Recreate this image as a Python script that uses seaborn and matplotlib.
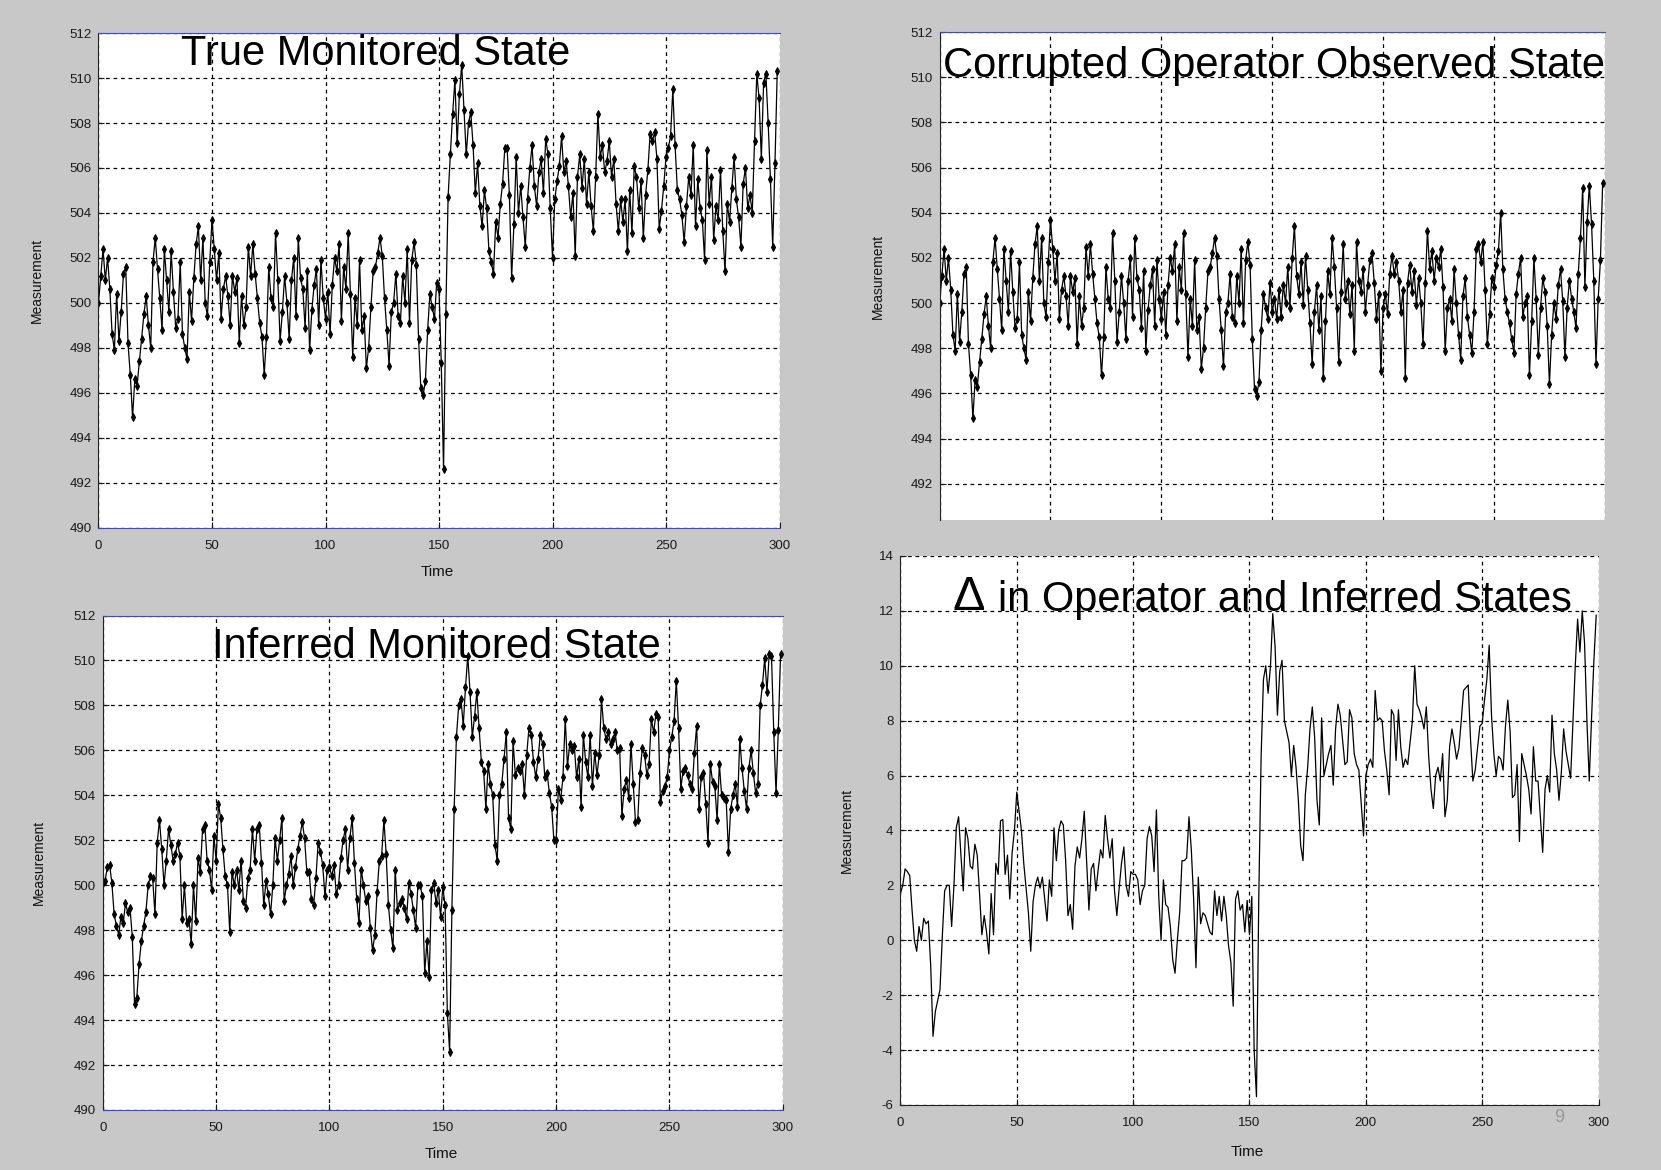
import numpy as np
import pandas as pd
import matplotlib
matplotlib.use('Agg')
import matplotlib.pyplot as plt
import seaborn as sns

# time index of the simulation
time = np.arange(300)

# true monitored state
true_state = [
    500.0, 501.2, 502.4, 501.0, 502.0, 500.6, 498.6, 497.9, 500.4, 498.3,
    499.6, 501.3, 501.6, 498.2, 496.8, 494.9, 496.6, 496.3, 497.4, 498.4,
    499.5, 500.3, 499.0, 498.0, 501.8, 502.9, 501.5, 500.2, 498.8, 502.4,
    501.0, 499.6, 502.3, 500.5, 498.9, 499.3, 501.8, 498.6, 498.0, 497.5,
    500.5, 499.2, 501.1, 502.6, 503.4, 501.0, 502.9, 500.0, 499.4, 501.8,
    503.7, 502.4, 501.0, 502.2, 499.3, 500.6, 501.2, 500.3, 499.0, 501.2,
    500.5, 501.1, 498.2, 500.3, 499.0, 499.8, 502.5, 501.2, 502.6, 501.3,
    500.2, 499.1, 498.5, 496.8, 498.5, 501.6, 500.2, 499.8, 503.1, 501.0,
    498.3, 499.6, 501.2, 500.0, 498.4, 501.0, 502.0, 499.4, 502.9, 501.1,
    500.6, 498.9, 501.4, 497.9, 499.7, 500.8, 501.5, 499.0, 501.9, 500.2,
    499.3, 500.5, 498.6, 500.8, 502.0, 501.4, 502.6, 499.2, 501.6, 500.6,
    503.1, 500.4, 497.6, 500.2, 499.0, 501.9, 498.8, 499.4, 497.1, 498.0,
    499.8, 501.4, 501.6, 502.2, 502.9, 502.1, 500.2, 498.8, 497.2, 499.6,
    500.0, 501.3, 499.4, 499.1, 501.2, 500.0, 502.4, 499.1, 501.9, 502.7,
    501.7, 498.4, 496.2, 495.9, 496.5, 498.8, 500.4, 499.8, 499.3, 500.9,
    500.6, 497.3, 492.6, 499.5, 504.7, 506.6, 508.4, 509.9, 507.1, 509.3,
    510.6, 508.6, 506.6, 508.0, 508.5, 507.0, 504.9, 506.2, 504.3, 503.4,
    505.0, 504.2, 502.3, 501.8, 501.3, 503.6, 502.9, 504.4, 505.3, 506.9,
    506.9, 504.8, 501.1, 503.5, 506.5, 504.0, 505.2, 503.8, 502.5, 504.6,
    506.0, 507.0, 505.2, 504.3, 505.8, 506.4, 504.9, 507.3, 506.6, 504.2,
    502.0, 504.6, 505.4, 506.1, 507.4, 505.8, 506.3, 505.2, 503.8, 504.9,
    502.1, 505.6, 506.6, 505.1, 506.4, 504.4, 505.8, 504.3, 503.2, 505.6,
    508.4, 506.5, 507.0, 505.8, 506.3, 507.2, 505.6, 506.4, 504.4, 503.2,
    504.6, 503.6, 504.6, 502.3, 505.0, 503.1, 506.1, 505.6, 504.2, 505.4,
    502.9, 504.8, 505.9, 507.5, 507.2, 507.6, 506.4, 503.3, 504.1, 505.2,
    506.5, 506.9, 507.4, 509.5, 507.0, 505.0, 504.6, 503.9, 502.7, 504.3,
    505.6, 504.8, 507.0, 503.4, 505.5, 504.2, 503.7, 501.9, 506.8, 504.4,
    505.6, 502.8, 504.3, 503.7, 505.9, 503.2, 501.4, 504.4, 503.6, 505.1,
    506.5, 504.6, 503.8, 502.5, 505.3, 506.0, 504.2, 504.8, 504.0, 507.2,
    510.2, 509.1, 506.4, 509.8, 510.2, 508.0, 505.5, 502.5, 506.2, 510.3,
]

# corrupted operator observed state (top-right panel)
observed_state = [
    500.0, 501.2, 502.4, 501.0, 502.0, 500.6, 498.6, 497.9, 500.4, 498.3,
    499.6, 501.3, 501.6, 498.2, 496.8, 494.9, 496.6, 496.3, 497.4, 498.4,
    499.5, 500.3, 499.0, 498.0, 501.8, 502.9, 501.5, 500.2, 498.8, 502.4,
    501.0, 499.6, 502.3, 500.5, 498.9, 499.3, 501.8, 498.6, 498.0, 497.5,
    500.5, 499.2, 501.1, 502.6, 503.4, 501.0, 502.9, 500.0, 499.4, 501.8,
    503.7, 502.4, 501.0, 502.2, 499.3, 500.6, 501.2, 500.3, 499.0, 501.2,
    500.5, 501.1, 498.2, 500.3, 499.0, 499.8, 502.5, 501.2, 502.6, 501.3,
    500.2, 499.1, 498.5, 496.8, 498.5, 501.6, 500.2, 499.8, 503.1, 501.0,
    498.3, 499.6, 501.2, 500.0, 498.4, 501.0, 502.0, 499.4, 502.9, 501.1,
    500.6, 498.9, 501.4, 497.9, 499.7, 500.8, 501.5, 499.0, 501.9, 500.2,
    499.3, 500.5, 498.6, 500.8, 502.0, 501.4, 502.6, 499.2, 501.6, 500.6,
    503.1, 500.4, 497.6, 500.2, 499.0, 501.9, 498.8, 499.4, 497.1, 498.0,
    499.8, 501.4, 501.6, 502.2, 502.9, 502.1, 500.2, 498.8, 497.2, 499.6,
    500.0, 501.3, 499.4, 499.1, 501.2, 500.0, 502.4, 499.1, 501.9, 502.7,
    501.7, 498.4, 496.2, 495.9, 496.5, 498.8, 500.4, 499.8, 499.3, 500.9,
    499.6, 500.2, 499.3, 500.6, 499.4, 500.8, 500.0, 501.6, 499.8, 502.0,
    503.4, 501.2, 500.4, 501.8, 499.9, 502.1, 500.6, 499.1, 497.3, 499.6,
    500.8, 498.8, 500.3, 496.7, 499.2, 501.4, 500.4, 502.9, 501.6, 499.8,
    497.4, 500.5, 502.6, 500.2, 501.0, 499.5, 500.8, 497.9, 502.7, 501.0,
    500.5, 501.5, 499.6, 500.8, 501.9, 502.2, 500.9, 499.3, 500.4, 497.0,
    499.8, 500.4, 499.5, 501.3, 502.1, 501.3, 501.8, 501.0, 499.6, 500.6,
    496.7, 500.9, 501.7, 500.5, 501.4, 499.9, 501.1, 500.0, 498.2, 500.9,
    503.2, 501.5, 502.3, 501.0, 502.0, 501.6, 502.4, 500.7, 497.9, 499.8,
    500.2, 499.2, 501.5, 500.0, 498.6, 497.5, 500.3, 501.1, 499.4, 498.6,
    497.8, 499.6, 502.4, 502.6, 501.8, 502.7, 500.6, 498.2, 499.5, 501.1,
    500.7, 501.7, 502.3, 504.0, 501.5, 500.2, 499.6, 499.1, 498.4, 497.8,
    500.4, 501.3, 502.0, 499.4, 500.0, 500.3, 496.8, 499.2, 502.0, 500.2,
    497.7, 499.8, 501.1, 500.5, 499.0, 496.4, 498.6, 500.0, 499.3, 500.8,
    501.5, 500.1, 497.6, 499.8, 501.0, 500.2, 499.6, 498.9, 501.3, 502.9,
    505.1, 500.7, 503.6, 505.2, 503.5, 501.0, 497.3, 500.2, 501.9, 505.3,
]

# inferred monitored state (bottom-left panel)
inferred_state = [
    500.1, 500.2, 500.8, 500.9, 500.1, 498.7, 498.2, 497.8, 498.6, 498.3,
    499.2, 498.8, 499.0, 497.7, 494.7, 495.0, 496.5, 497.5, 498.2, 498.8,
    500.0, 500.4, 500.3, 498.7, 501.9, 502.9, 501.6, 500.0, 501.1, 502.5,
    501.8, 501.1, 501.4, 501.9, 501.3, 498.5, 500.0, 498.3, 498.5, 497.4,
    500.0, 498.4, 501.2, 500.6, 502.5, 502.7, 501.1, 500.7, 499.8, 502.2,
    501.1, 503.6, 503.0, 501.6, 500.4, 500.0, 497.9, 500.6, 500.0, 500.7,
    499.8, 501.1, 499.3, 499.0, 500.3, 500.7, 502.5, 501.1, 502.5, 502.7,
    501.0, 499.1, 500.2, 499.6, 498.7, 500.0, 502.1, 501.1, 502.0, 503.0,
    499.3, 500.0, 500.5, 501.3, 500.0, 500.8, 501.6, 502.2, 502.8, 502.1,
    500.6, 500.6, 499.4, 499.1, 500.3, 501.9, 501.5, 500.9, 499.5, 500.7,
    500.8, 500.4, 500.9, 499.6, 500.0, 501.2, 502.0, 502.5, 500.7, 502.1,
    503.0, 501.0, 499.4, 498.3, 500.7, 500.0, 499.3, 499.5, 498.1, 497.1,
    497.8, 499.7, 501.1, 501.3, 502.9, 501.4, 499.1, 498.0, 497.2, 500.7,
    498.9, 499.2, 499.4, 499.0, 498.5, 500.1, 499.6, 498.9, 498.1, 500.0,
    500.0, 499.5, 496.1, 497.5, 495.9, 499.8, 500.1, 499.2, 499.8, 498.6,
    499.9, 499.1, 494.3, 492.6, 498.9, 503.4, 506.6, 508.0, 508.3, 507.1,
    508.8, 510.2, 508.6, 506.6, 507.5, 508.6, 507.0, 505.5, 505.1, 503.4,
    505.4, 504.5, 504.0, 501.8, 501.1, 504.0, 504.5, 505.6, 506.8, 503.0,
    502.5, 506.4, 504.9, 505.2, 505.1, 505.4, 504.0, 505.8, 507.0, 506.7,
    505.5, 504.8, 505.6, 506.7, 506.3, 504.8, 505.0, 504.1, 503.5, 502.0,
    502.0, 504.3, 503.8, 504.8, 507.4, 505.3, 506.3, 506.0, 506.2, 504.8,
    505.6, 503.5, 506.7, 505.5, 504.8, 506.7, 504.4, 505.9, 504.9, 505.8,
    508.3, 507.0, 506.5, 506.8, 506.3, 506.5, 506.8, 506.0, 506.1, 503.1,
    504.3, 504.7, 503.9, 506.3, 504.5, 502.8, 502.9, 505.0, 506.1, 505.8,
    504.9, 505.4, 507.4, 506.8, 507.6, 507.5, 503.7, 504.2, 504.4, 504.8,
    506.0, 506.6, 507.3, 509.1, 507.0, 504.3, 505.1, 505.2, 504.9, 504.5,
    504.3, 505.9, 507.1, 503.4, 504.8, 505.0, 503.6, 501.9, 505.4, 504.6,
    504.4, 502.9, 505.4, 504.0, 503.9, 503.8, 501.5, 503.4, 504.0, 504.5,
    503.5, 506.5, 505.2, 504.2, 503.4, 505.2, 506.0, 505.0, 504.1, 504.5,
    508.0, 508.9, 510.1, 508.6, 510.3, 510.2, 506.8, 504.1, 506.9, 510.3,
]

# difference between operator and inferred states (bottom-right panel)
delta_state = [
    1.7, 2.0, 2.6, 2.5, 2.35, 1.1, 0.0, -0.4, 0.5, 0.0,
    0.8, 0.6, 0.7, -0.9, -3.5, -2.6, -2.2, -1.8, 0.15, 1.8,
    2.0, 2.0, 0.5, 2.0, 4.1, 4.5, 3.1, 1.8, 4.1, 3.7,
    2.7, 2.6, 3.5, 3.1, 1.7, 0.2, 0.9, 0.3, -0.5, 1.7,
    0.2, 2.8, 2.4, 4.35, 4.4, 2.4, 3.1, 1.5, 3.2, 4.0,
    5.4, 4.7, 4.0, 2.8, 1.9, 1.0, -0.4, 1.4, 2.0, 2.3,
    1.9, 2.3, 1.5, 0.7, 2.2, 1.6, 4.1, 2.9, 4.0, 4.35,
    4.2, 2.9, 0.9, 1.3, 0.4, 2.7, 3.4, 3.0, 3.7, 4.7,
    2.9, 1.1, 2.6, 2.8, 1.8, 2.6, 3.3, 3.0, 4.55, 3.7,
    3.0, 3.7, 1.8, 0.9, 1.9, 2.8, 3.4, 2.0, 1.6, 2.5,
    2.4, 2.4, 2.2, 1.3, 1.8, 2.0, 3.7, 4.15, 3.8, 2.5,
    4.75, 1.6, 0.0, 2.2, 1.3, 1.2, 0.5, -0.7, -1.2, 0.0,
    1.0, 2.9, 2.9, 3.0, 4.5, 3.3, 1.5, -1.0, 2.3, 0.6,
    1.0, 0.9, 0.6, 0.3, 0.2, 1.8, 0.9, 1.6, 0.7, 1.6,
    0.9, -0.2, -0.8, -2.4, 1.5, 1.8, 1.1, 1.3, 0.3, 1.45,
    0.2, 1.6, -4.0, -5.7, 1.6, 6.7, 9.5, 10.0, 9.0, 9.95,
    11.9, 10.7, 8.2, 9.8, 10.2, 8.0, 7.6, 7.2, 6.0, 7.1,
    6.3, 5.1, 3.45, 2.9, 5.3, 6.3, 7.7, 8.5, 7.4, 5.1,
    4.2, 8.1, 6.0, 6.4, 6.8, 7.1, 5.65, 7.7, 8.6, 8.2,
    7.3, 6.4, 6.5, 8.4, 8.1, 6.8, 6.4, 6.2, 5.0, 3.8,
    6.0, 6.4, 6.6, 6.3, 9.1, 8.0, 8.1, 8.0, 6.9, 6.2,
    5.3, 8.4, 8.2, 6.55, 8.4, 7.05, 6.3, 6.6, 6.4, 7.2,
    8.0, 10.0, 8.6, 8.4, 8.1, 7.7, 8.5, 6.7, 5.5, 4.8,
    6.0, 6.3, 5.8, 6.8, 4.5, 5.1, 7.05, 7.7, 7.2, 6.6,
    7.0, 8.0, 9.1, 9.2, 9.3, 7.3, 5.8, 6.2, 7.0, 7.8,
    7.9, 8.75, 9.5, 10.75, 8.2, 6.8, 6.0, 6.7, 6.6, 6.2,
    7.8, 8.75, 7.6, 5.2, 5.3, 6.4, 3.6, 6.8, 6.4, 6.0,
    5.5, 4.6, 7.05, 5.8, 5.8, 4.5, 3.2, 5.5, 6.0, 5.4,
    8.2, 6.8, 6.2, 5.1, 6.1, 7.7, 6.9, 6.4, 5.9, 8.0,
    10.0, 11.7, 10.5, 12.0, 10.8, 8.0, 5.8, 8.1, 10.2, 11.85,
]

x_ticks = [0, 50, 100, 150, 200, 250, 300]

sns.set_style('white')
plt.rcParams['font.family'] = ['Liberation Sans', 'DejaVu Sans']
plt.rcParams['axes.unicode_minus'] = False

BG = '#c8c8c8'
BLUE = '#3a46e0'
fig = plt.figure(figsize=(16.61, 11.70), dpi=100, facecolor=BG)


def style_axes(ax, ylim, yticks, show_x=True, edge_top=BLUE, edge_bottom=BLUE):
    ax.set_xlim(0, 300)
    ax.set_ylim(*ylim)
    ax.set_xticks(x_ticks)
    ax.set_yticks(yticks)
    ax.set_facecolor('white')
    ax.grid(True, color='black', linestyle=(0, (3, 3)), linewidth=0.9)
    ax.tick_params(direction='in', length=4, labelsize=9.5, colors='#1a1a1a',
                   pad=5, left=True, bottom=show_x)
    ax.tick_params(axis='x', pad=9)
    if not show_x:
        ax.set_xticklabels([])
    ax.spines['right'].set_visible(False)
    ax.spines['left'].set_color('#222222')
    ax.spines['top'].set_color(edge_top)
    ax.spines['bottom'].set_color(edge_bottom)
    if not show_x:
        ax.spines['bottom'].set_visible(False)
    ax.set_axisbelow(True)


def draw(ax, values, marker=True):
    df = pd.DataFrame({'Time': time, 'Measurement': values})
    kw = dict(marker='d', markersize=4, markeredgecolor='black',
              markerfacecolor='black') if marker else {}
    sns.lineplot(data=df, x='Time', y='Measurement', ax=ax, color='black',
                 linewidth=0.9, estimator=None, sort=False, **kw)


# top-left: true state
ax1 = fig.add_axes([0.0593, 0.5491, 0.410, 0.4226])
draw(ax1, true_state)
style_axes(ax1, (490, 512), list(range(490, 513, 2)))
ax1.text(0.407, 0.957, 'True Monitored State', transform=ax1.transAxes,
         ha='center', va='center', fontsize=30, color='black')

# top-right: operator observed
ax2 = fig.add_axes([0.5657, 0.5556, 0.4005, 0.417])
draw(ax2, observed_state)
style_axes(ax2, (490.4, 512), list(range(492, 513, 2)), show_x=False)
ax2.text(0.503, 0.931, 'Corrupted Operator Observed State', transform=ax2.transAxes,
         ha='center', va='center', fontsize=30, color='black')

# bottom-left: inferred state
ax3 = fig.add_axes([0.0619, 0.0513, 0.4094, 0.4226])
draw(ax3, inferred_state)
style_axes(ax3, (490, 512), list(range(490, 513, 2)))
ax3.text(0.49, 0.936, 'Inferred Monitored State', transform=ax3.transAxes,
         ha='center', va='center', fontsize=30, color='black')

# bottom-right: delta
ax4 = fig.add_axes([0.5421, 0.0556, 0.4203, 0.4692])
draw(ax4, delta_state, marker=False)
style_axes(ax4, (-6, 14), list(range(-6, 15, 2)), edge_top='#555555',
           edge_bottom='#222222')
ax4.spines['top'].set_visible(False)
ax4.text(0.074, 0.925, '\u0394', transform=ax4.transAxes,
         ha='left', va='center', fontsize=35, color='black')
ax4.text(0.14, 0.92, 'in Operator and Inferred States', transform=ax4.transAxes,
         ha='left', va='center', fontsize=30, color='black')

for ax, lx, ly, show_x in [(ax1, -0.08, -0.075, True), (ax2, -0.082, None, False),
                           (ax3, -0.083, -0.075, True), (ax4, -0.067, -0.073, True)]:
    ax.set_ylabel('Measurement', fontsize=10, color='#111111')
    ax.yaxis.set_label_coords(lx, 0.5)
    if show_x:
        ax.set_xlabel('Time', fontsize=11, color='#111111')
        ax.xaxis.set_label_coords(0.497, ly)
    else:
        ax.set_xlabel('')

fig.text(1559 / 1661, 1 - 1118 / 1170, '9', fontsize=13, color='#9a9a9a',
         ha='center', va='center')

plt.savefig('out.png', format='png', dpi=100, facecolor=BG)
